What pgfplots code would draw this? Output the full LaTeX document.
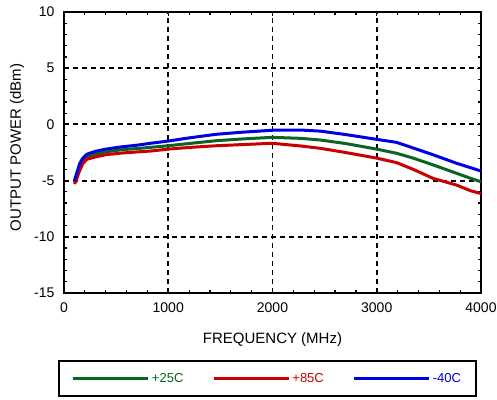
\documentclass[border=0pt]{standalone}
\usepackage{fontspec}
\setmainfont{Liberation Sans}
\usepackage{pgfplots}
\pgfplotsset{compat=1.18}
\definecolor{cgreen}{RGB}{10,100,35}
\definecolor{cred}{RGB}{200,0,0}
\definecolor{cblue}{RGB}{0,0,230}
\begin{document}
\begin{tikzpicture}
\useasboundingbox (0,0) rectangle (497bp,-400bp);
\begin{axis}[
  at={(64bp,-293bp)}, anchor=south west,
  scale only axis, width=417bp, height=281bp,
  xmin=0, xmax=4000, ymin=-15, ymax=10,
  xtick={0,1000,...,4000}, ytick={-15,-10,...,10},
  minor tick num=4,
  tick align=inside,
  major tick length=4bp, minor tick length=3bp,
  tick style={black, line width=1.2bp},
  grid=major,
  major grid style={black, line width=1.9bp, dash pattern=on 5bp off 4bp},
  axis line style={line width=2.5bp},
  /pgf/number format/assume math mode=true,
  /pgf/number format/1000 sep={},
  tick label style={font=\fontsize{14bp}{16bp}\selectfont},
  xticklabel style={yshift=-6bp},
  yticklabel style={xshift=-6bp},
  xlabel={FREQUENCY (MHz)},
  ylabel={OUTPUT POWER (dBm)},
  every axis x label/.style={at={([yshift=-47bp]axis description cs:0.5,0)}, anchor=center, font=\fontsize{15bp}{17bp}\selectfont},
  every axis y label/.style={at={([xshift=-47bp]axis description cs:0,0.518)}, anchor=center, rotate=90, font=\fontsize{15bp}{17bp}\selectfont},
  legend columns=3,
  legend style={at={(axis description cs:0.488,-0.304)}, anchor=center,
    draw=black, line width=2bp, inner xsep=13bp, inner ysep=10bp,
    font=\fontsize{13bp}{15bp}\selectfont,
    /tikz/every even column/.append style={column sep=27bp}},
  legend image code/.code={\draw[#1, line width=3bp] (0bp,0bp) -- (75bp,0bp);},
]
\addplot[cgreen, line width=3bp] coordinates {
(100,-5.1) (120,-4.7) (150,-3.8) (180,-3.25) (220,-2.9) (300,-2.65) (400,-2.45)
(550,-2.25) (700,-2.15) (830,-2.04) (1000,-1.9) (1200,-1.7) (1460,-1.45) (1700,-1.3)
(2000,-1.15) (2270,-1.24) (2460,-1.39) (2700,-1.7) (3000,-2.2) (3190,-2.57) (3350,-3.0)
(3540,-3.6) (3766,-4.35) (3900,-4.8) (4000,-5.1)};
\addlegendentry{\textcolor{cgreen}{+25C}}
\addplot[cred, line width=3bp] coordinates {
(100,-5.3) (120,-4.9) (150,-4.1) (180,-3.5) (220,-3.1) (300,-2.9) (400,-2.7)
(550,-2.55) (700,-2.45) (830,-2.37) (1000,-2.2) (1200,-2.05) (1460,-1.9) (1700,-1.8)
(2000,-1.68) (2270,-1.92) (2460,-2.13) (2700,-2.5) (3000,-3.0) (3190,-3.4) (3350,-4.0)
(3540,-4.8) (3766,-5.4) (3900,-5.9) (4000,-6.15)};
\addlegendentry{\textcolor{cred}{+85C}}
\addplot[cblue, line width=3bp] coordinates {
(100,-5.0) (120,-4.4) (150,-3.5) (180,-3.0) (220,-2.65) (300,-2.4) (400,-2.2)
(550,-2.0) (700,-1.85) (830,-1.68) (1000,-1.48) (1200,-1.2) (1460,-0.88) (1700,-0.7)
(2000,-0.52) (2270,-0.5) (2460,-0.6) (2700,-0.9) (3000,-1.33) (3190,-1.6) (3350,-2.1)
(3540,-2.7) (3766,-3.46) (3900,-3.85) (4000,-4.15)};
\addlegendentry{\textcolor{cblue}{-40C}}
\end{axis}
\end{tikzpicture}
\end{document}
